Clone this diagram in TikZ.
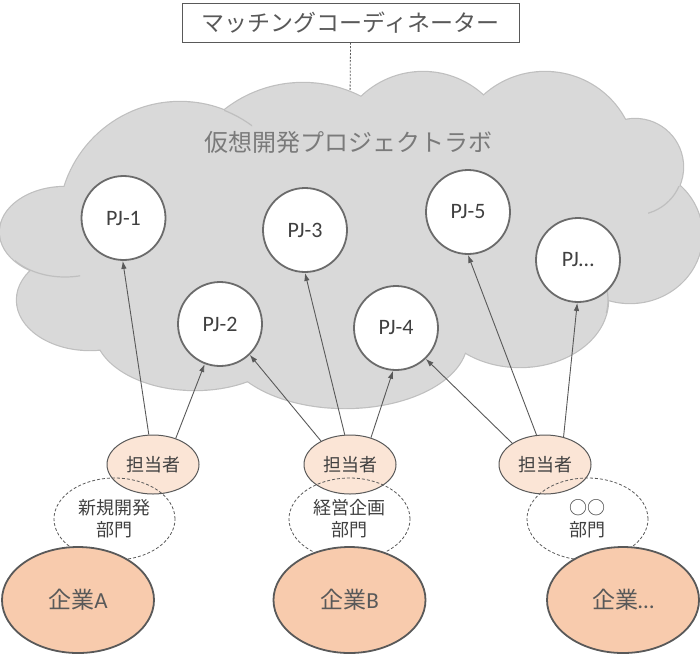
\documentclass[tikz,border=0pt]{standalone}
\usepackage{fontspec}
\usetikzlibrary{shapes.geometric,arrows.meta}
\newfontfamily\jpfont{Noto Sans CJK JP}
\newfontfamily\pjfont{Carlito}
\definecolor{cloudfill}{HTML}{D9D9D9}
\definecolor{cloudedge}{HTML}{BFBFBF}
\definecolor{darkline}{HTML}{595959}
\definecolor{pjedge}{HTML}{6B6B6B}
\definecolor{staff}{HTML}{FBE5D6}
\definecolor{company}{HTML}{F8CBAD}
\definecolor{txtgray}{HTML}{404040}
% puffs of the cloud: x/y/x radius/y radius
\def\puffs{180/223/121/121, 303/210/127/127, 423/161/89/89, 545/160/90/88,
  635/167/48/48, 630/235/72/68, 520/300/88/67, 345/340/122/68,
  195/330/100/60, 90/300/73/50, 65/232/65/45}

\begin{document}
\begin{tikzpicture}[x=1pt,y=-1pt,
    cloudline/.style={draw=cloudedge, line width=1.2pt},
    pj/.style={circle, draw=pjedge, line width=1.8pt, fill=white, minimum size=84pt,
      inner sep=0pt, text=txtgray, font=\pjfont\fontsize{22}{26}\selectfont},
    staffnode/.style={ellipse, draw=darkline, line width=1pt, fill=staff, minimum width=92pt,
      minimum height=59pt, inner sep=0pt, text=txtgray, font=\jpfont\fontsize{18}{22}\selectfont},
    dept/.style={ellipse, draw=darkline, line width=0.8pt, dash pattern=on 3pt off 2pt,
      minimum width=121pt, minimum height=82pt, inner sep=0pt, align=center,
      text=txtgray, font=\jpfont\fontsize{18}{22}\selectfont},
    firm/.style={ellipse, draw=darkline, line width=1.8pt, fill=company, minimum width=152pt,
      minimum height=106pt, inner sep=0pt, text=darkline, font=\jpfont\fontsize{23}{27}\selectfont},
    link/.style={draw=darkline, line width=0.9pt, -{Latex[length=8pt,width=5.5pt]}}]
    \useasboundingbox (0,0) rectangle (700,654);

    % Coordinator box and its line to the lab
    \node[draw=darkline, line width=1pt, fill=white, minimum width=337pt, minimum height=39pt,
      text=darkline, font=\jpfont\fontsize{23}{26}\selectfont] (coord) at (350.5,22.5) {マッチングコーディネーター};
    \coordinate (labtop) at (350,100);
    \draw[darkline, line width=0.8pt, dash pattern=on 2pt off 1.5pt] (coord.south) -- (labtop);

    % Draw the cloud
    \foreach \cx/\cy/\rx/\ry in \puffs
      \draw[cloudline, line width=2.4pt] (\cx,\cy) ellipse [x radius=\rx pt, y radius=\ry pt];
    \foreach \cx/\cy/\rx/\ry in \puffs
      \fill[cloudfill] (\cx,\cy) ellipse [x radius=\rx pt, y radius=\ry pt];
    \fill[cloudfill] (360,250) ellipse [x radius=200pt, y radius=90pt];
    % inner arcs of the cloud
    \begin{scope}
      \clip (224,104) rectangle (252,126);
      \draw[cloudline] (180,223) circle [radius=121pt];
    \end{scope}
    \begin{scope}
      \clip (15,255) rectangle (80,282);
      \draw[cloudline] (65,232) ellipse [x radius=65pt, y radius=45pt];
    \end{scope}
    \begin{scope}
      \clip (648,186) rectangle (690,216);
      \draw[cloudline] (635,167) circle [radius=48pt];
    \end{scope}
    \begin{scope}
      \clip (598,290) rectangle (612,312);
      \draw[cloudline] (520,300) ellipse [x radius=88pt, y radius=67pt];
    \end{scope}
    \node[text=darkline!80, font=\jpfont\fontsize{24}{28}\selectfont] (lab) at (348,142) {仮想開発プロジェクトラボ};

    % Projects
    \node[pj] (pj1) at (123.5,218) {PJ-1};
    \node[pj] (pj2) at (220,324) {PJ-2};
    \node[pj] (pj3) at (305,230) {PJ-3};
    \node[pj] (pj4) at (396,328) {PJ-4};
    \node[pj] (pj5) at (468,212) {PJ-5};
    \node[pj] (pjx) at (578,260) {PJ…};

    % Companies, departments and staff
    \node[staffnode] (t1) at (153,464.5) {担当者};
    \node[staffnode] (t2) at (350,464.5) {担当者};
    \node[staffnode] (t3) at (545,464.5) {担当者};
    \node[dept] (d1) at (114.5,519) {新規開発\\部門};
    \node[dept] (d2) at (349.5,519) {経営企画\\部門};
    \node[dept] (d3) at (587.5,519) {○○\\部門};
    \node[firm] (f1) at (78,600) {企業{\pjfont A}};
    \node[firm] (f2) at (349.5,600) {企業{\pjfont B}};
    \node[firm] (f3) at (623,600) {企業{\pjfont …}};

    % Staff to projects
    \draw[link] (t1.98) -- (pj1.-91);
    \draw[link] (t1.49) -- (pj2.-111);
    \draw[link] (t2.141) -- (pj2.-46);
    \draw[link] (t2.100) -- (pj3.-90);
    \draw[link] (t2.52) -- (pj4.-94);
    \draw[link] (t3.147) -- (pj4.-46);
    \draw[link] (t3.106) -- (pj5.-90);
    \draw[link] (t3.56) -- (pjx.-91);
\end{tikzpicture}
\end{document}
